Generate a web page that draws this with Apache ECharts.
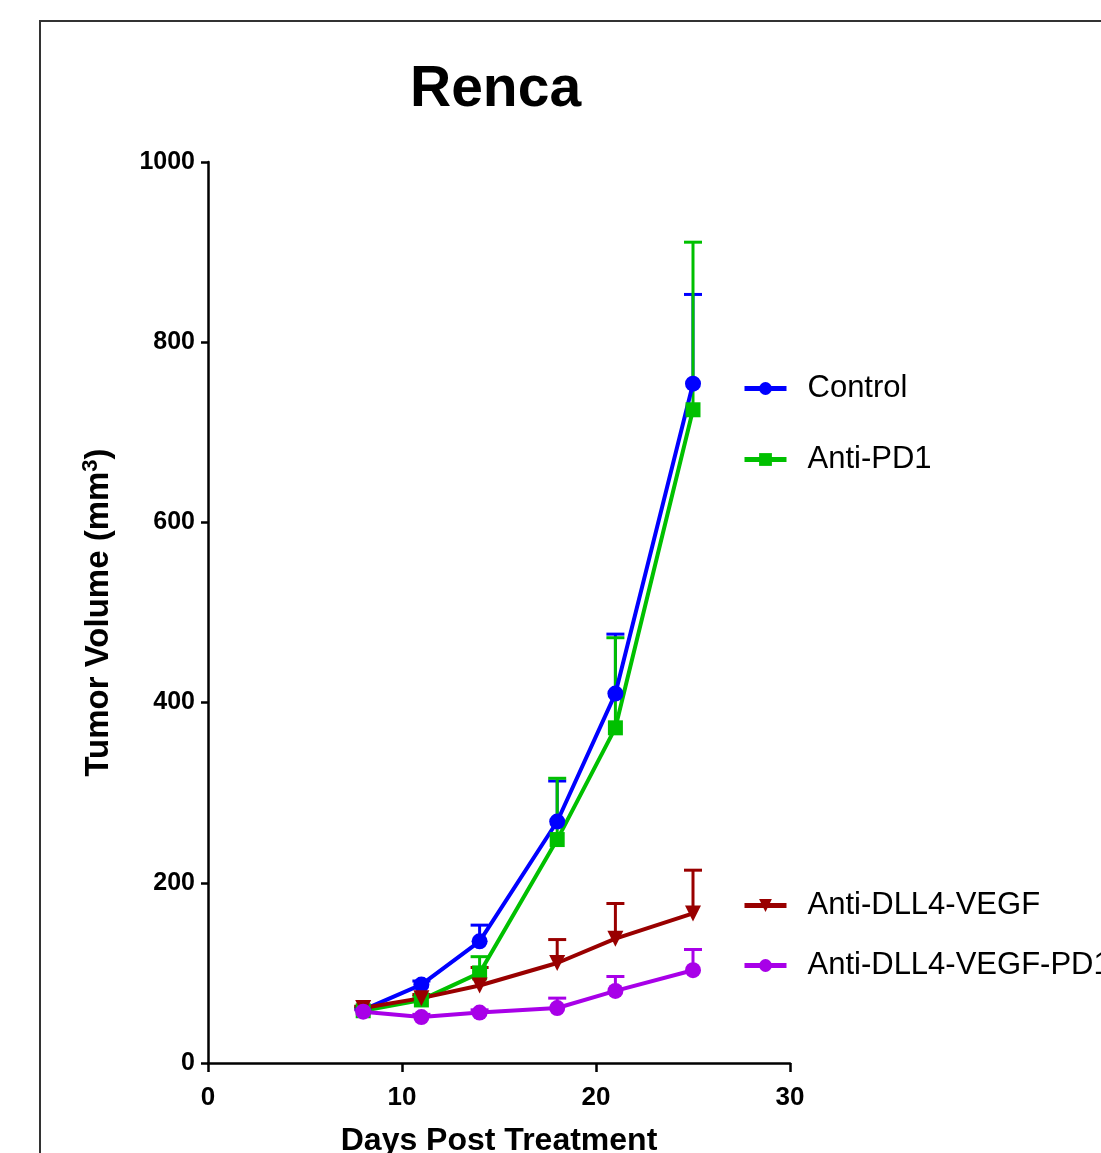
<!DOCTYPE html>
<html>
<head>
<meta charset="utf-8">
<script src="https://cdn.jsdelivr.net/npm/echarts@6/dist/echarts.min.js"></script>
<style>
  html, body { margin: 0; padding: 0; background: #fff; }
  #chart { width: 1101px; height: 1153px; }
</style>
</head>
<body>
<div id="chart"></div>
<script>
// ---- data ----
const days = [8, 11, 14, 18, 21, 25];
const seriesNames = ['Control', 'Anti-PD1', 'Anti-DLL4-VEGF', 'Anti-DLL4-VEGF-PD1'];
const controlMean  = [59, 87, 135, 268, 410, 754];
const controlUpper = [61, 91, 153, 313, 476, 853];
const antiPD1Mean  = [58, 70, 100, 248, 372, 725];
const antiPD1Upper = [60, 74, 118, 316, 472, 911];
const dllMean      = [61, 72, 86, 111, 138, 166];
const dllUpper     = [63, 76, 106, 137, 177, 214];
const dllPd1Mean   = [57, 51, 56, 61, 80, 103];
const dllPd1Upper  = [59, 54, 59, 72, 96, 126];
const xTicks = [0, 10, 20, 30];
const yTicks = [0, 200, 400, 600, 800, 1000];

const colors = ['#0000FF', '#00C000', '#990000', '#A800E8'];
const symbols = ['circle', 'rect', 'triangle', 'circle'];
const rotations = [0, 0, 180, 0];
const means = [controlMean, antiPD1Mean, dllMean, dllPd1Mean];
const uppers = [controlUpper, antiPD1Upper, dllUpper, dllPd1Upper];

const FONT = '"Liberation Sans", Arial, sans-serif';

function errorSeries(i) {
  return {
    type: 'custom',
    name: seriesNames[i] + ' SEM',
    data: days.map((d, k) => [d, means[i][k], uppers[i][k]]),
    renderItem: function (params, api) {
      const x = api.value(0);
      const base = api.coord([x, api.value(1)]);
      const top = api.coord([x, api.value(2)]);
      const half = 9;
      const style = { stroke: colors[i], lineWidth: 3 };
      return {
        type: 'group',
        children: [
          { type: 'line', shape: { x1: base[0], y1: base[1], x2: top[0], y2: top[1] }, style: style },
          { type: 'line', shape: { x1: top[0] - half, y1: top[1], x2: top[0] + half, y2: top[1] }, style: style }
        ]
      };
    },
    silent: true,
    z: 2
  };
}

function lineSeries(i) {
  return {
    type: 'line',
    name: seriesNames[i],
    data: days.map((d, k) => [d, means[i][k]]),
    symbol: symbols[i],
    symbolSize: i === 1 ? 15 : 16,
    symbolRotate: rotations[i],
    showAllSymbol: true,
    lineStyle: { color: colors[i], width: 4 },
    itemStyle: { color: colors[i] },
    z: 3
  };
}

const series = [];
for (let i = 0; i < 4; i++) {
  series.push(errorSeries(i));
  series.push(lineSeries(i));
}

const legendTops = [368, 439, 885, 945];
const legends = seriesNames.map((n, i) => ({
  data: [n],
  left: 737,
  top: legendTops[i],
  orient: 'vertical',
  itemWidth: 42,
  itemHeight: 16,
  selectedMode: false,
  lineStyle: { width: 5 },
  textStyle: { fontFamily: FONT, fontSize: 31, color: '#000', padding: [0, 0, 0, 16] }
}));

const chart = echarts.init(document.getElementById('chart'), null, { renderer: 'canvas' });
chart.setOption({
  backgroundColor: '#fff',
  animation: false,
  title: {
    text: 'Renca',
    left: 405,
    top: 57,
    textStyle: { fontFamily: FONT, fontSize: 57, fontWeight: 'bold', color: '#000' }
  },
  graphic: [{
    type: 'rect',
    shape: { x: 40, y: 21, width: 1300, height: 1400 },
    style: { fill: 'none', stroke: '#333', lineWidth: 2 },
    silent: true
  }],
  legend: legends,
  grid: { left: 208, top: 162, width: 582, height: 901, containLabel: false, outerBoundsMode: 'none' },
  xAxis: {
    type: 'value',
    min: 0, max: 30, interval: 10,
    name: 'Days Post Treatment',
    nameLocation: 'middle',
    nameGap: 62,
    nameTextStyle: { fontFamily: FONT, fontSize: 32, fontWeight: 'bold', color: '#000' },
    axisLine: { show: true, onZero: false, lineStyle: { color: '#000', width: 2.5 } },
    axisTick: { show: true, length: 9, lineStyle: { color: '#000', width: 2.5 } },
    axisLabel: { fontFamily: FONT, fontSize: 26, fontWeight: 'bold', color: '#000', margin: 22,
      formatter: v => xTicks.includes(v) ? String(v) : '' },
    splitLine: { show: false }
  },
  yAxis: {
    type: 'value',
    min: 0, max: 1000, interval: 200,
    name: 'Tumor Volume (mm{sup|3})',
    nameLocation: 'middle',
    nameGap: 90,
    nameTextStyle: {
      fontFamily: FONT, fontSize: 33, fontWeight: 'bold', color: '#000',
      rich: { sup: { fontFamily: FONT, fontSize: 22, fontWeight: 'bold', color: '#000', verticalAlign: 'top', padding: [0, 0, 16, 0] } }
    },
    axisLine: { show: true, onZero: false, lineStyle: { color: '#000', width: 2.5 } },
    axisTick: { show: true, length: 7, lineStyle: { color: '#000', width: 2.5 } },
    axisLabel: { fontFamily: FONT, fontSize: 25, fontWeight: 'bold', color: '#000', margin: 13,
      formatter: v => yTicks.includes(v) ? String(v) : '' },
    splitLine: { show: false }
  },
  series: series
});
</script>
</body>
</html>
